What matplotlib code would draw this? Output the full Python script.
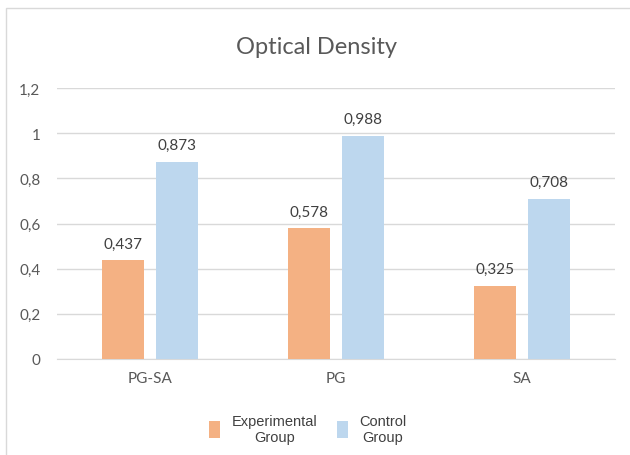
import matplotlib.pyplot as plt
import numpy as np
from matplotlib.patches import Rectangle

categorias = ['PG-SA', 'PG', 'SA']
experimental = [0.437, 0.578, 0.325]
control = [0.873, 0.988, 0.708]
series = ['Experimental\nGroup', 'Control\nGroup']
colores = ['#F4B183', '#BDD7EE']

def coma(v):
    return f"{v:g}".replace('.', ',')

fig = plt.figure(figsize=(6.3, 4.56), dpi=100)
ax = fig.add_axes([57/630, 1 - 360/456, 558/630, 271/456])

x = np.arange(len(categorias))
ancho = 0.23
b1 = ax.bar(x - 0.145, experimental, ancho, color=colores[0], label=series[0], zorder=3)
b2 = ax.bar(x + 0.145, control, ancho, color=colores[1], label=series[1], zorder=3)

ax.bar_label(b1, labels=[coma(v) for v in experimental], padding=7,
             fontsize=11, color='#404040', family='Lato')
ax.bar_label(b2, labels=[coma(v) for v in control], padding=7,
             fontsize=11, color='#404040', family='Lato')

ax.set_xlim(-0.5, 2.5)
ax.set_ylim(0, 1.2)
ticks = np.round(np.arange(0, 1.21, 0.2), 1)
ax.set_yticks(ticks)
ax.set_yticklabels([coma(t) for t in ticks], fontsize=11, color='#595959', family='Lato')
ax.set_xticks(x)
ax.set_xticklabels(categorias, fontsize=11, color='#595959', family='Lato')
ax.tick_params(length=0, pad=12)
ax.tick_params(axis='x', pad=9)
ax.yaxis.grid(True, color='#D9D9D9', linewidth=1, zorder=0)
for s in ['top', 'right', 'left']:
    ax.spines[s].set_visible(False)
ax.spines['bottom'].set_color('#D9D9D9')

fig.text(317/630, 1 - 47/456, 'Optical Density', ha='center', va='center',
         fontsize=17, color='#595959', family='Lato')

leg = fig.legend(loc='center', bbox_to_anchor=(308/630, 1 - 430/456), ncol=2,
                 frameon=False, fontsize=10.5, handlelength=0.75, handleheight=1.4,
                 handletextpad=0.8, columnspacing=1.3)
for t in leg.get_texts():
    t.set_multialignment('center')
    t.set_color('#404040')
    t.set_family('Liberation Sans')

# marco del grafico
fig.patches.append(Rectangle((6/630, -0.1), 1.2, 1 - 9/456 + 0.1, transform=fig.transFigure,
                             fill=False, edgecolor='#D9D9D9', linewidth=1))

plt.savefig('out.png', dpi=100)
